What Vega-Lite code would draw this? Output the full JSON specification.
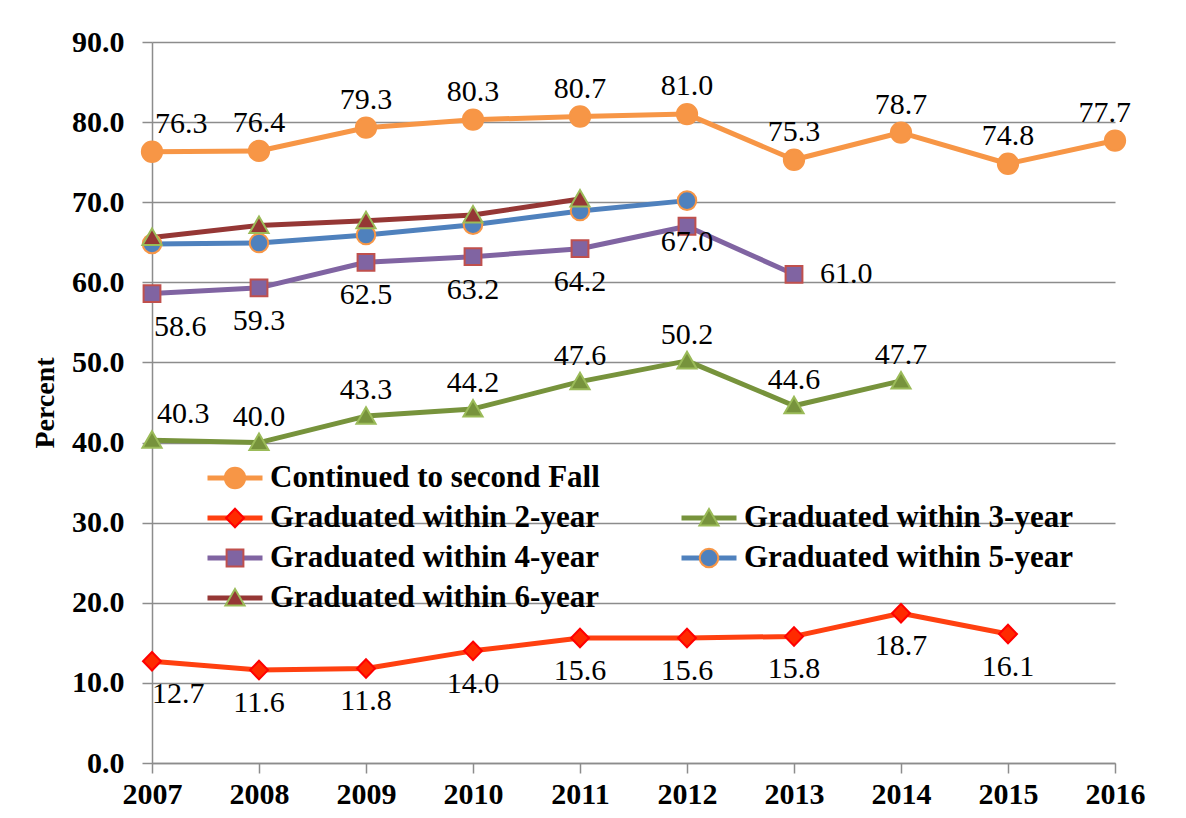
{
  "$schema": "https://vega.github.io/schema/vega-lite/v6.json",
  "width": 963,
  "height": 721,
  "autosize": "none",
  "padding": {"left": 152, "top": 42, "right": 71, "bottom": 55},
  "background": "white",
  "config": {
    "view": {"stroke": null},
    "font": "Liberation Serif",
    "axis": {
      "labelFont": "Liberation Serif",
      "labelFontWeight": "bold",
      "labelFontSize": 30,
      "labelColor": "#000000",
      "domainColor": "#8c8c8c",
      "domainWidth": 1.5,
      "tickColor": "#8c8c8c",
      "tickWidth": 1.5,
      "tickSize": 10,
      "gridColor": "#8c8c8c",
      "gridWidth": 1.5,
      "titleFont": "Liberation Serif",
      "titleFontWeight": "bold",
      "titleFontSize": 28,
      "titleColor": "#000000"
    }
  },
  "data": {
    "values": [
      {"year": 2007, "series": "Continued to second Fall", "value": 76.3},
      {"year": 2008, "series": "Continued to second Fall", "value": 76.4},
      {"year": 2009, "series": "Continued to second Fall", "value": 79.3},
      {"year": 2010, "series": "Continued to second Fall", "value": 80.3},
      {"year": 2011, "series": "Continued to second Fall", "value": 80.7},
      {"year": 2012, "series": "Continued to second Fall", "value": 81.0},
      {"year": 2013, "series": "Continued to second Fall", "value": 75.3},
      {"year": 2014, "series": "Continued to second Fall", "value": 78.7},
      {"year": 2015, "series": "Continued to second Fall", "value": 74.8},
      {"year": 2016, "series": "Continued to second Fall", "value": 77.7},
      {"year": 2007, "series": "Graduated within 2-year", "value": 12.7},
      {"year": 2008, "series": "Graduated within 2-year", "value": 11.6},
      {"year": 2009, "series": "Graduated within 2-year", "value": 11.8},
      {"year": 2010, "series": "Graduated within 2-year", "value": 14.0},
      {"year": 2011, "series": "Graduated within 2-year", "value": 15.6},
      {"year": 2012, "series": "Graduated within 2-year", "value": 15.6},
      {"year": 2013, "series": "Graduated within 2-year", "value": 15.8},
      {"year": 2014, "series": "Graduated within 2-year", "value": 18.7},
      {"year": 2015, "series": "Graduated within 2-year", "value": 16.1},
      {"year": 2007, "series": "Graduated within 3-year", "value": 40.3},
      {"year": 2008, "series": "Graduated within 3-year", "value": 40.0},
      {"year": 2009, "series": "Graduated within 3-year", "value": 43.3},
      {"year": 2010, "series": "Graduated within 3-year", "value": 44.2},
      {"year": 2011, "series": "Graduated within 3-year", "value": 47.6},
      {"year": 2012, "series": "Graduated within 3-year", "value": 50.2},
      {"year": 2013, "series": "Graduated within 3-year", "value": 44.6},
      {"year": 2014, "series": "Graduated within 3-year", "value": 47.7},
      {"year": 2007, "series": "Graduated within 4-year", "value": 58.6},
      {"year": 2008, "series": "Graduated within 4-year", "value": 59.3},
      {"year": 2009, "series": "Graduated within 4-year", "value": 62.5},
      {"year": 2010, "series": "Graduated within 4-year", "value": 63.2},
      {"year": 2011, "series": "Graduated within 4-year", "value": 64.2},
      {"year": 2012, "series": "Graduated within 4-year", "value": 67.0},
      {"year": 2013, "series": "Graduated within 4-year", "value": 61.0},
      {"year": 2007, "series": "Graduated within 5-year", "value": 64.8},
      {"year": 2008, "series": "Graduated within 5-year", "value": 64.9},
      {"year": 2009, "series": "Graduated within 5-year", "value": 65.9},
      {"year": 2010, "series": "Graduated within 5-year", "value": 67.2},
      {"year": 2011, "series": "Graduated within 5-year", "value": 68.9},
      {"year": 2012, "series": "Graduated within 5-year", "value": 70.2},
      {"year": 2007, "series": "Graduated within 6-year", "value": 65.6},
      {"year": 2008, "series": "Graduated within 6-year", "value": 67.1},
      {"year": 2009, "series": "Graduated within 6-year", "value": 67.7},
      {"year": 2010, "series": "Graduated within 6-year", "value": 68.4},
      {"year": 2011, "series": "Graduated within 6-year", "value": 70.4}
    ]
  },
  "encoding": {
    "x": {
      "field": "year",
      "type": "quantitative",
      "scale": {"domain": [2007, 2016], "nice": false, "zero": false},
      "axis": {
        "values": [2007, 2008, 2009, 2010, 2011, 2012, 2013, 2014, 2015, 2016],
        "format": "d",
        "grid": false,
        "title": null,
        "labelPadding": 6,
        "labelFlush": false,
        "labelOverlap": false
      }
    },
    "y": {
      "field": "value",
      "type": "quantitative",
      "scale": {"domain": [0, 90], "nice": false},
      "axis": {
        "values": [0, 10, 20, 30, 40, 50, 60, 70, 80, 90],
        "format": ".1f",
        "grid": true,
        "title": "Percent",
        "titlePadding": 12,
        "labelPadding": 18
      }
    }
  },
  "layer": [
    {
      "mark": {"type": "line", "strokeWidth": 5, "strokeJoin": "round", "strokeCap": "round"},
      "encoding": {
        "color": {
          "field": "series",
          "type": "nominal",
          "scale": {
            "domain": ["Continued to second Fall", "Graduated within 2-year", "Graduated within 4-year", "Graduated within 6-year", " ", "Graduated within 3-year", "Graduated within 5-year"],
            "range": ["#F79646", "#FF4010", "#8064A2", "#953735", "transparent", "#77933C", "#4F81BD"]
          },
          "legend": {
            "title": null,
            "orient": "none",
            "legendX": 53,
            "legendY": 416,
            "columns": 2,
            "padding": 0,
            "rowPadding": 0,
            "columnPadding": 79,
            "clipHeight": 40,
            "symbolType": "stroke",
            "symbolSize": 3025,
            "symbolStrokeWidth": 5,
            "labelOffset": 5,
            "labelFont": "Liberation Serif",
            "labelFontWeight": "bold",
            "labelFontSize": 31,
            "labelColor": "#000000",
            "labelLimit": 1000
          }
        }
      }
    },
    {
      "mark": {"type": "point", "filled": true, "opacity": 1, "size": 3364, "strokeWidth": 2},
      "encoding": {
        "shape": {
          "field": "series",
          "type": "nominal",
          "scale": {
            "domain": ["Continued to second Fall", "Graduated within 2-year", "Graduated within 4-year", "Graduated within 6-year", "  ", "Graduated within 3-year", "Graduated within 5-year"],
            "range": [
              "M0,-0.35A0.35,0.35 0 1,1 0,0.35A0.35,0.35 0 1,1 0,-0.35Z",
              "M0,-0.32L0.31,0L0,0.32L-0.31,0Z",
              "M-0.29,-0.29L0.29,-0.29L0.29,0.29L-0.29,0.29Z",
              "M0,-0.31L0.33,0.26L-0.33,0.26Z",
              "circle",
              "M0,-0.31L0.33,0.26L-0.33,0.26Z",
              "M0,-0.32A0.32,0.32 0 1,1 0,0.32A0.32,0.32 0 1,1 0,-0.32Z"
            ]
          },
          "legend": {
            "title": null,
            "orient": "none",
            "legendX": 53,
            "legendY": 416,
            "columns": 2,
            "padding": 0,
            "rowPadding": 0,
            "columnPadding": 79,
            "clipHeight": 40,
            "symbolSize": 3364,
            "symbolStrokeWidth": 2,
            "symbolOpacity": 1,
            "labelOffset": 5,
            "labelFont": "Liberation Serif",
            "labelFontWeight": "bold",
            "labelFontSize": 31,
            "labelColor": "#000000",
            "labelOpacity": 0,
            "labelLimit": 1000
          }
        },
        "fill": {
          "field": "series",
          "type": "nominal",
          "scale": {
            "domain": ["Continued to second Fall", "Graduated within 2-year", "Graduated within 4-year", "Graduated within 6-year", "  ", "Graduated within 3-year", "Graduated within 5-year"],
            "range": ["#F79646", "#FF2A00", "#8064A2", "#953735", "transparent", "#77933C", "#4F81BD"]
          },
          "legend": {
            "title": null,
            "orient": "none",
            "legendX": 53,
            "legendY": 416,
            "columns": 2,
            "padding": 0,
            "rowPadding": 0,
            "columnPadding": 79,
            "clipHeight": 40,
            "symbolSize": 3364,
            "symbolStrokeWidth": 2,
            "symbolOpacity": 1,
            "labelOffset": 5,
            "labelFont": "Liberation Serif",
            "labelFontWeight": "bold",
            "labelFontSize": 31,
            "labelColor": "#000000",
            "labelOpacity": 0,
            "labelLimit": 1000
          }
        },
        "stroke": {
          "field": "series",
          "type": "nominal",
          "scale": {
            "domain": ["Continued to second Fall", "Graduated within 2-year", "Graduated within 4-year", "Graduated within 6-year", "  ", "Graduated within 3-year", "Graduated within 5-year"],
            "range": ["#F79646", "#FF0000", "#C0504D", "#9BBB59", "transparent", "#9BBB59", "#F79646"]
          },
          "legend": {
            "title": null,
            "orient": "none",
            "legendX": 53,
            "legendY": 416,
            "columns": 2,
            "padding": 0,
            "rowPadding": 0,
            "columnPadding": 79,
            "clipHeight": 40,
            "symbolSize": 3364,
            "symbolStrokeWidth": 2,
            "symbolOpacity": 1,
            "labelOffset": 5,
            "labelFont": "Liberation Serif",
            "labelFontWeight": "bold",
            "labelFontSize": 31,
            "labelColor": "#000000",
            "labelOpacity": 0,
            "labelLimit": 1000
          }
        }
      }
    },
    {
      "transform": [{"filter": "datum.series === 'Continued to second Fall'"}],
      "mark": {
        "type": "text",
        "font": "Liberation Serif",
        "fontSize": 30,
        "color": "#000000",
        "baseline": "alphabetic",
        "dy": -19,
        "align": {"expr": "datum.year == 2007 ? 'left' : (datum.year == 2016 ? 'right' : 'center')"},
        "dx": {"expr": "datum.year == 2007 ? 3 : (datum.year == 2016 ? 16 : 0)"}
      },
      "encoding": {"text": {"field": "value", "type": "quantitative", "format": ".1f"}}
    },
    {
      "transform": [{"filter": "datum.series === 'Graduated within 2-year'"}],
      "mark": {
        "type": "text",
        "font": "Liberation Serif",
        "fontSize": 30,
        "color": "#000000",
        "baseline": "alphabetic",
        "dy": 42,
        "align": {"expr": "datum.year == 2007 ? 'left' : 'center'"},
        "dx": 0
      },
      "encoding": {"text": {"field": "value", "type": "quantitative", "format": ".1f"}}
    },
    {
      "transform": [{"filter": "datum.series === 'Graduated within 3-year'"}],
      "mark": {
        "type": "text",
        "font": "Liberation Serif",
        "fontSize": 30,
        "color": "#000000",
        "baseline": "alphabetic",
        "dy": -17,
        "align": {"expr": "datum.year == 2007 ? 'left' : 'center'"},
        "dx": {"expr": "datum.year == 2007 ? 5 : 0"}
      },
      "encoding": {"text": {"field": "value", "type": "quantitative", "format": ".1f"}}
    },
    {
      "transform": [{"filter": "datum.series === 'Graduated within 4-year'"}],
      "mark": {
        "type": "text",
        "font": "Liberation Serif",
        "fontSize": 30,
        "color": "#000000",
        "baseline": "alphabetic",
        "dy": {"expr": "datum.year == 2012 ? 25 : (datum.year == 2013 ? 9 : 42)"},
        "align": {"expr": "datum.year == 2007 || datum.year == 2013 ? 'left' : 'center'"},
        "dx": {"expr": "datum.year == 2007 ? 2 : (datum.year == 2013 ? 26 : 0)"}
      },
      "encoding": {"text": {"field": "value", "type": "quantitative", "format": ".1f"}}
    }
  ]
}
